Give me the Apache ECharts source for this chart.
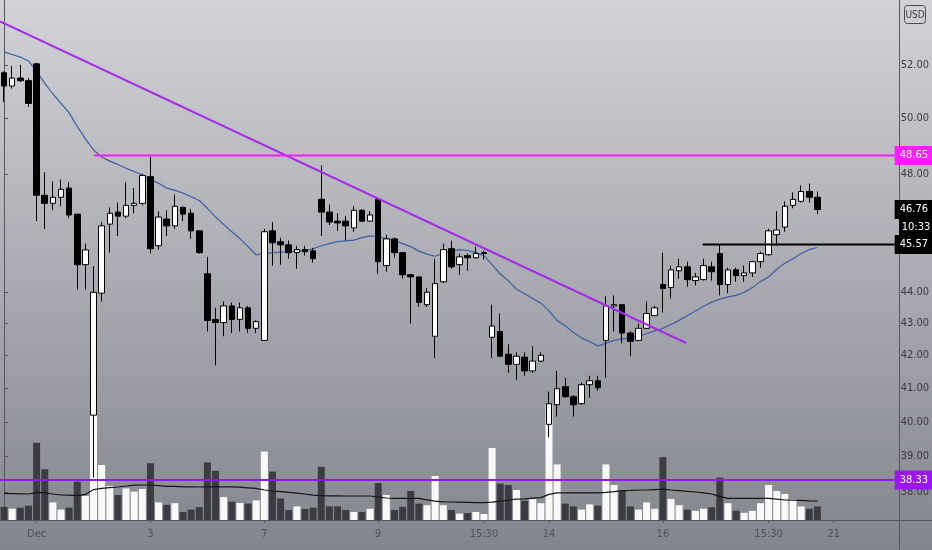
<!DOCTYPE html>
<html><head><meta charset="utf-8">
<script src="https://cdn.jsdelivr.net/npm/echarts@6/dist/echarts.min.js"></script>
<style>html,body{margin:0;padding:0;background:#fff;} #c{width:932px;height:550px;}</style>
</head><body><div id="c"></div>
<script>
// ---- data (hourly bars) ----
const opens = [51.7,51.2,51.5,51.4,52.04,47.25,46.97,47.18,47.5,46.6,
 44.9,40.2,43.97,46.26,46.67,46.53,46.9,46.97,47.9,45.53,
 46.43,46.2,46.83,46.63,46.03,44.6,43.13,43.03,43.56,43.13,
 43.5,42.85,42.47,46.03,45.66,45.56,45.3,45.4,45.36,47.11,
 46.67,46.36,46.36,46.13,46.73,46.36,47.11,44.87,45.76,45.3,
 44.57,44.5,43.6,42.6,44.34,45.43,44.9,45.2,45.13,45.27,
 42.57,42.75,42.04,41.73,41.95,41.53,41.83,39.93,40.51,41.05,
 40.75,40.54,41.11,41.23,42.47,43.56,43.6,42.7,42.47,42.85,
 43.25,44.25,44.15,44.7,44.83,44.38,44.41,44.83,45.27,44.25,
 44.73,44.54,44.63,45.0,45.23,45.9,46.16,46.9,47.04,47.38,
 47.18];
const closes = [51.2,51.5,51.4,50.55,47.25,46.97,47.18,47.46,46.57,44.9,
 45.39,44.0,46.2,46.63,46.53,46.9,46.97,47.94,45.43,46.5,
 46.2,46.87,46.6,46.03,45.3,43.1,43.03,43.56,43.13,43.5,
 42.85,43.06,46.0,45.63,45.56,45.3,45.4,45.33,45.1,46.67,
 46.33,46.3,46.2,46.73,46.36,46.57,45.0,45.76,45.3,44.57,
 44.5,43.67,44.0,44.28,45.4,44.83,45.16,45.13,45.27,45.3,
 42.92,41.98,41.73,41.98,41.53,41.83,42.01,40.54,40.99,40.75,
 40.51,41.11,41.23,41.02,43.56,43.6,42.7,42.44,42.85,43.32,
 43.5,44.12,44.73,44.83,44.41,44.5,44.87,44.67,44.25,44.73,
 44.54,44.63,45.0,45.27,46.03,46.06,46.87,47.11,47.38,47.18,
 46.76];
const lows = [50.6,51.1,51.35,50.42,46.36,46.09,46.73,46.87,46.46,44.08,
 44.08,38.4,43.7,45.3,45.86,46.46,46.63,46.9,45.27,45.4,
 45.86,46.1,46.36,45.76,45.27,42.75,41.7,42.6,42.7,42.75,
 42.7,42.7,42.47,44.87,44.9,45.1,44.77,45.2,44.97,45.86,
 46.23,46.03,45.7,46.0,46.33,46.33,44.6,44.67,45.13,44.44,
 43.0,43.53,43.53,41.92,44.3,44.77,44.57,44.7,45.1,45.07,
 41.92,41.95,41.47,41.26,41.38,41.47,41.8,39.55,40.16,40.72,
 40.16,40.51,40.72,40.93,41.32,42.75,42.38,41.98,42.44,42.82,
 43.25,43.35,43.8,44.44,44.18,44.22,44.38,44.38,43.9,43.97,
 44.34,44.34,44.5,44.8,45.2,45.53,46.0,46.8,47.0,47.0,
 46.6];
const highs = [51.75,51.96,52.0,51.5,52.08,48.05,47.73,47.8,47.7,46.6,
 45.6,44.85,46.33,46.83,47.0,47.7,47.5,48.0,48.6,46.7,
 46.73,47.28,46.87,46.77,46.03,45.16,43.5,43.7,43.67,43.67,
 43.56,43.1,46.1,46.33,45.8,45.7,45.53,45.53,45.46,48.3,
 46.93,46.63,46.53,46.87,46.77,46.7,47.18,45.9,45.8,45.3,
 44.57,44.5,44.14,45.1,45.6,45.7,45.27,45.27,45.5,45.36,
 43.6,43.32,42.35,42.1,42.1,42.29,42.1,40.9,41.53,41.32,
 40.8,41.17,41.38,41.38,43.87,43.9,43.6,42.76,43.0,43.7,
 43.56,45.3,44.87,45.1,45.0,44.63,45.1,45.0,45.56,44.8,
 44.8,44.87,45.03,45.33,46.1,46.7,47.04,47.35,47.59,47.66,
 47.38];
const volumes = [66,56,62,72,386,254,88,52,62,192,
 120,650,275,170,125,158,142,155,284,88,
 76,84,40,52,64,288,246,115,92,85,
 82,98,342,242,108,50,68,55,62,266,
 68,68,50,40,40,56,185,125,50,66,
 145,82,74,220,74,50,32,35,40,30,
 360,182,175,150,96,104,84,575,278,82,
 68,52,78,72,278,175,145,68,52,88,
 56,314,105,74,52,46,56,64,212,84,
 46,36,46,84,175,145,130,105,68,56,
 68];
const priceMA = [52.5,52.4,52.3,52.15,51.75,51.3,50.9,50.55,50.2,49.7,
 49.25,48.85,48.6,48.45,48.33,48.2,48.08,47.97,47.8,47.67,
 47.5,47.42,47.33,47.2,47.07,46.8,46.5,46.25,46.0,45.77,
 45.5,45.22,45.27,45.3,45.32,45.33,45.35,45.37,45.43,45.53,
 45.6,45.67,45.69,45.72,45.8,45.86,45.83,45.77,45.7,45.6,
 45.5,45.35,45.25,45.18,45.27,45.35,45.4,45.37,45.3,45.2,
 44.9,44.6,44.37,44.1,43.95,43.8,43.65,43.4,43.1,42.93,
 42.72,42.55,42.43,42.3,42.38,42.47,42.52,42.55,42.6,42.68,
 42.77,42.85,42.97,43.1,43.25,43.4,43.55,43.68,43.78,43.85,
 43.9,44.0,44.15,44.35,44.5,44.75,44.95,45.1,45.27,45.4,
 45.47];
const volumeMA = [133,132,131,130,137,137,130,125,124,122,
 128,152,158,162,165,170,174,175,175,172,
 168,168,166,166,165,166,166,166,166,164,
 161,158,150,145,142,138,134,130,124,122,
 121,121,120,120,120,120,115,110,108,108,
 108,108,101,94,91,90,89,88,87,87,
 89,94,100,104,106,109,112,128,136,136,
 136,136,136,136,138,142,147,148,150,150,
 152,154,150,147,143,140,136,130,118,108,
 108,108,108,108,108,104,100,99,98,96,
 95];
const tickIndex = [4,18,32,46,59,67,81,94,102];
const tickText = ['Dec','3','7','9','15:30','14','16','15:30','21'];
const priceTicks = [38,39,40,41,42,43,44,48,50,52];
const trendline = [[-0.49,53.69],[83.86,42.39]];
const resistance = {start:11, value:48.65};
const pivot = {start:85.9, value:45.57};
const support = {start:-0.5, value:38.33};
const lastPrice = 46.76;
const countdown = '10:33';
const slots = 110;

// ---- chart ----
const FONT = '"Liberation Sans Narrow","DejaVu Sans Condensed",Roboto,sans-serif';
const cats = Array.from({length:slots},(_,i)=>String(i));
const candleData = opens.map((o,i)=>[o,closes[i],lows[i],highs[i]]);
const volData = volumes.map((v,i)=>({value:v,itemStyle:{color: closes[i]>=opens[i] ? 'rgba(255,255,255,0.95)' : 'rgba(48,49,55,0.88)'}}));
const END = slots - 0.5;

function priceLabel(val, bg){
  return {symbol:'none', silent:true, animation:false,
    lineStyle:{color:'rgba(0,0,0,0)', width:0, type:'solid'},
    label:{show:true, position:'end', distance:0, formatter: val.toFixed(2),
      backgroundColor:bg, color:'#ffffff', padding:[4,5,4,5], lineHeight:11, fontSize:11, fontFamily:FONT, opacity:1},
    emphasis:{disabled:true},
    data:[{yAxis:val}]};
}
function hline(obj, color){
  return {type:'line', xAxisIndex:1, yAxisIndex:0, data:[[obj.start,obj.value],[END,obj.value]],
    symbol:'none', silent:true, z:6, lineStyle:{color:color,width:2}, markLine: priceLabel(obj.value,color)};
}

const chart = echarts.init(document.getElementById('c'), null, {renderer:'canvas'});
chart.setOption({
  animation:false,
  backgroundColor:{type:'linear',x:0,y:0,x2:0,y2:1,colorStops:[{offset:0,color:'#d2d3d8'},{offset:1,color:'#83858d'}]},
  grid:{left:0,right:33,top:0,bottom:30},
  xAxis:[
    {type:'category', data:cats, boundaryGap:true,
     axisLine:{show:true,lineStyle:{color:'#55575d'}},
     axisTick:{show:true, interval:(i)=>tickIndex.includes(i), alignWithLabel:true, length:3, lineStyle:{color:'#55575d'}},
     axisLabel:{interval:(i)=>tickIndex.includes(i), formatter:(v,i)=>{const k=tickIndex.indexOf(Number(v)); return k>=0?tickText[k]:'';},
       color:'#4e5158', fontSize:11, fontFamily:FONT, margin:9},
     splitLine:{show:false}},
    {type:'value', min:-0.5, max:END, show:false}
  ],
  yAxis:[
    {type:'log', logBase:10, min:37.22, max:54.54, position:'right',
     axisLine:{show:true,lineStyle:{color:'#55575d'}},
     axisTick:{show:true, customValues:priceTicks, length:4, lineStyle:{color:'#55575d'}},
     axisLabel:{customValues:priceTicks, formatter:(v)=>Number(v).toFixed(2), color:'#3a3b40', fontSize:11, fontFamily:FONT, margin:6},
     splitLine:{show:false}},
    {type:'value', min:0, max:2600, show:false}
  ],
  series:[
    {type:'bar', xAxisIndex:0, yAxisIndex:1, data:volData, barWidth:7, z:1, silent:true},
    {type:'line', xAxisIndex:0, yAxisIndex:1, data:volumeMA, symbol:'none', z:2, lineStyle:{color:'#151515',width:1.2}},
    {type:'line', xAxisIndex:0, yAxisIndex:0, data:priceMA, symbol:'none', z:3, lineStyle:{color:'#3b5ea3',width:1.2}},
    {type:'candlestick', xAxisIndex:0, yAxisIndex:0, data:candleData, barWidth:6, z:4,
     itemStyle:{color:'#ffffff', color0:'#000000', borderColor:'#000000', borderColor0:'#000000', borderWidth:1},
     markLine: priceLabel(lastPrice,'#000000')},
    {type:'line', xAxisIndex:1, yAxisIndex:0, data:trendline, symbol:'none', z:5, lineStyle:{color:'#a52be6',width:2}},
    hline(resistance,'#ff1cff'),
    hline(pivot,'#000000'),
    hline(support,'#9a14f5')
  ],
  graphic:[
    {type:'line', shape:{x1:0,y1:520.5,x2:932,y2:520.5}, style:{stroke:'#55575d',lineWidth:1}, z:0},
    {type:'line', shape:{x1:899.5,y1:0,x2:899.5,y2:550}, style:{stroke:'#55575d',lineWidth:1}, z:0},
    {type:'rect', shape:{x:899,y:219,width:33,height:17}, style:{fill:'#000'}, z:1},
    {type:'text', x:916, y:227.5, style:{text:countdown, fill:'#fff', font:'11px '+FONT, align:'center', verticalAlign:'middle'}, z:2},
    {type:'rect', shape:{x:904.5,y:5.5,width:21,height:18,r:3}, style:{fill:'none',stroke:'#4a4b50',lineWidth:1}, z:10},
    {type:'text', x:915, y:15, style:{text:'USD', fill:'#3a3b40', font:'10px '+FONT, align:'center', verticalAlign:'middle'}, z:11}
  ]
});
</script></body></html>
